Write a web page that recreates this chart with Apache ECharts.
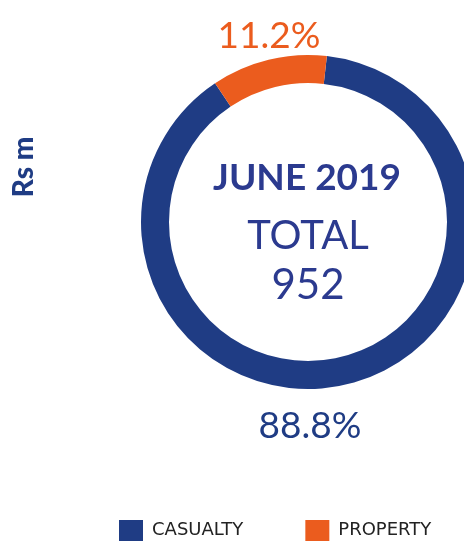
<!DOCTYPE html>
<html>
<head>
<meta charset="utf-8">
<script src="https://cdn.jsdelivr.net/npm/echarts@6/dist/echarts.min.js"></script>
<style>
  html, body { margin: 0; padding: 0; background: #fff; }
  #chart { width: 464px; height: 541px; }
</style>
</head>
<body>
<div id="chart"></div>
<script>
const categories = ['CASUALTY', 'PROPERTY'];
const shares = [88.8, 11.2];
const colors = ['#1f3c84', '#eb5c1e'];
const periodLabel = 'JUNE 2019';
const totalValue = 952;

const chart = echarts.init(document.getElementById('chart'));

const labelPos = [
    { x: 310, y: 426 },
    { x: 269, y: 36 }
];

const option = {
    animation: false,
    color: colors,
    legend: {
        top: 520,
        left: 119,
        padding: 0,
        itemWidth: 24,
        itemHeight: 21,
        itemGap: 62,
        icon: 'rect',
        selectedMode: false,
        data: categories,
        textStyle: {
            fontFamily: 'DejaVu Sans',
            fontSize: 18,
            color: '#222',
            padding: [10, 0, 0, 4]
        }
    },
    graphic: [
        {
            type: 'text',
            rotation: Math.PI / 2,
            x: 24, y: 167,
            style: {
                text: 'Rs m',
                fill: '#1f3c84',
                font: '900 28px Lato',
                align: 'center',
                verticalAlign: 'middle'
            }
        },
        {
            type: 'text',
            x: 307, y: 178,
            style: {
                text: periodLabel,
                fill: '#2b3a8f',
                font: 'bold 37px Lato',
                align: 'center',
                verticalAlign: 'middle'
            }
        },
        {
            type: 'text',
            x: 308, y: 236,
            style: {
                text: 'TOTAL',
                fill: '#2b3a8f',
                font: '400 40px Lato',
                align: 'center',
                verticalAlign: 'middle'
            }
        },
        {
            type: 'text',
            x: 308, y: 285,
            style: {
                text: String(totalValue),
                fill: '#2b3a8f',
                font: '400 42px Lato',
                align: 'center',
                verticalAlign: 'middle'
            }
        }
    ],
    series: [
        {
            type: 'pie',
            center: [308, 222],
            radius: [139, 167],
            startAngle: 83.5,
            clockwise: true,
            silent: true,
            label: {
                show: true,
                position: 'outside',
                formatter: '{c}%',
                fontFamily: 'Lato',
                fontSize: 37,
                overflow: 'none',
                color: 'inherit'
            },
            labelLine: { show: false },
            labelLayout: function (p) {
                const pos = labelPos[p.dataIndex];
                return { x: pos.x, y: pos.y, align: 'center', verticalAlign: 'middle', width: 200 };
            },
            data: categories.map(function (name, i) {
                return {
                    name: name,
                    value: shares[i],
                    label: { color: colors[i] }
                };
            })
        }
    ]
};

chart.setOption(option);
</script>
</body>
</html>
